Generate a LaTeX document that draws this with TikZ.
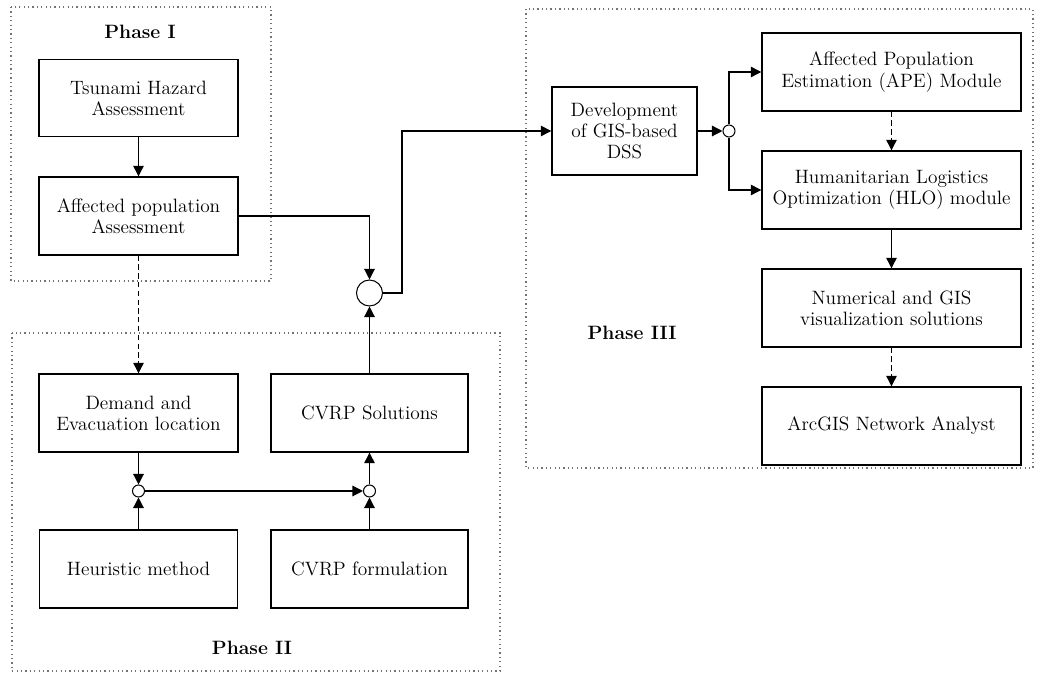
\documentclass[tikz,border=0pt]{standalone}
\usetikzlibrary{arrows.meta}
\begin{document}
\begin{tikzpicture}[x=0.02cm,y=-0.02cm,
  box/.style={draw,line width=0.8pt,align=center,inner sep=0pt,
    font=\fontsize{11}{12}\selectfont},
  joint/.style={draw,circle,fill=white,line width=0.6pt,inner sep=0pt},
  arr/.style={line width=0.7pt,-{Triangle[length=6pt,width=6pt]}},
  dasharr/.style={arr,dash pattern=on 3pt off 2pt},
  phase/.style={draw=black!55,line width=0.6pt,dash pattern=on 0.7pt off 1.8pt},
  plabel/.style={font=\fontsize{11}{12}\selectfont\bfseries}]
\useasboundingbox (0,0) rectangle (1039,675);

% phase frames
\draw[phase] (11,7) rectangle (271,281);
\draw[phase] (12,333) rectangle (500,671);
\draw[phase] (526,9) rectangle (1033,468);
\node[plabel] (p1) at (140,32) {Phase I};
\node[plabel] (p2) at (252,648) {Phase II};
\node[plabel] (p3) at (632,333) {Phase III};

% phase I
\node[box,minimum width=199*0.02cm,minimum height=77*0.02cm] (tsu) at (138.5,98) {Tsunami Hazard\\Assessment};
\node[box,minimum width=199*0.02cm,minimum height=78*0.02cm] (aff) at (138.5,216) {Affected population\\Assessment};

% phase II
\node[box,minimum width=199*0.02cm,minimum height=78*0.02cm] (dem) at (138.5,413) {Demand and\\Evacuation location};
\node[box,minimum width=197*0.02cm,minimum height=78*0.02cm] (sol) at (369.5,413) {CVRP Solutions};
\node[box,minimum width=198*0.02cm,minimum height=78*0.02cm] (heu) at (138.5,569) {Heuristic method};
\node[box,minimum width=197*0.02cm,minimum height=78*0.02cm] (form) at (369.5,569) {CVRP formulation};
\node[joint,minimum size=12*0.02cm] (cL) at (138.5,491) {};
\node[joint,minimum size=12*0.02cm] (cR) at (369.5,491) {};
\node[joint,minimum size=26*0.02cm] (c0) at (369.5,293) {};
\coordinate (bend) at (402,293);

% phase III
\node[box,minimum width=145*0.02cm,minimum height=88*0.02cm] (dev) at (624.5,131) {Development\\of GIS-based\\DSS};
\node[joint,minimum size=12*0.02cm] (cD) at (729,131) {};
\node[box,minimum width=259*0.02cm,minimum height=78*0.02cm] (ape) at (891.5,72) {Affected Population\\Estimation (APE) Module};
\node[box,minimum width=259*0.02cm,minimum height=78*0.02cm] (hlo) at (891.5,190) {Humanitarian Logistics\\Optimization (HLO) module};
\node[box,minimum width=259*0.02cm,minimum height=78*0.02cm] (num) at (891.5,308) {Numerical and GIS\\visualization solutions};
\node[box,minimum width=259*0.02cm,minimum height=78*0.02cm] (arc) at (891.5,426) {ArcGIS Network Analyst};

% connectors
\draw[arr] (tsu.south) -- (aff.north);
\draw[arr] (aff.east) -| (c0.north);
\draw[dasharr] (aff.south) -- (dem.north);
\draw[arr] (dem.south) -- (cL.north);
\draw[arr] (heu.north) -- (cL.south);
\draw[arr] (cL.east) -- (cR.west);
\draw[arr] (form.north) -- (cR.south);
\draw[arr] (cR.north) -- (sol.south);
\draw[arr] (sol.north) -- (c0.south);
\draw[arr] (c0.east) -- (bend) |- (dev.west);
\draw[arr] (dev.east) -- (cD.west);
\draw[arr] (cD.north) |- (ape.west);
\draw[arr] (cD.south) |- (hlo.west);
\draw[dasharr] (ape.south) -- (hlo.north);
\draw[arr] (hlo.south) -- (num.north);
\draw[dasharr] (num.south) -- (arc.north);
\end{tikzpicture}
\end{document}
